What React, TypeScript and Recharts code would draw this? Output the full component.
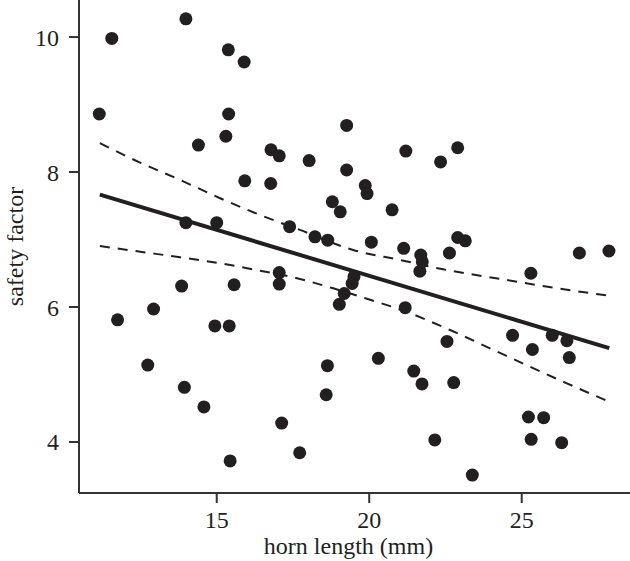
import React from 'react';
import { ComposedChart, Scatter, Line, XAxis, YAxis } from 'recharts';

// horn length (mm) of each specimen
const hornLength = [
  11.15, 11.56, 11.75, 12.74, 12.93, 13.85, 13.94, 13.99, 13.99, 14.4,
  14.58, 14.94, 15.0, 15.3, 15.38, 15.39, 15.41, 15.44, 15.57, 15.9,
  15.92, 16.77, 16.78, 17.05, 17.05, 17.05, 17.13, 17.39, 17.72, 18.03,
  18.22, 18.59, 18.63, 18.64, 18.79, 19.02, 19.05, 19.18, 19.26, 19.26,
  19.5, 19.44, 19.87, 19.93, 20.07, 20.3, 20.75, 21.13, 21.18, 21.2,
  21.46, 21.66, 21.69, 21.74, 21.73, 22.15, 22.34, 22.55, 22.63, 22.77,
  22.9, 22.9, 23.15, 23.38, 24.7, 25.22, 25.3, 25.31, 25.35, 25.72,
  26.0, 26.31, 26.48, 26.56, 26.89, 27.86,
];
// safety factor of each specimen
const safetyFactor = [
  8.86, 9.98, 5.81, 5.14, 5.97, 6.31, 4.81, 10.27, 7.25, 8.4,
  4.52, 5.72, 7.25, 8.53, 9.81, 8.86, 5.72, 3.72, 6.33, 9.63,
  7.87, 7.83, 8.33, 8.24, 6.51, 6.34, 4.28, 7.19, 3.84, 8.17,
  7.04, 4.7, 5.13, 6.99, 7.56, 6.04, 7.41, 6.2, 8.69, 8.03,
  6.45, 6.35, 7.8, 7.68, 6.96, 5.24, 7.44, 6.87, 5.99, 8.31,
  5.05, 6.53, 6.77, 6.67, 4.86, 4.03, 8.15, 5.49, 6.8, 4.88,
  8.36, 7.03, 6.98, 3.51, 5.58, 4.37, 6.5, 4.04, 5.37, 4.36,
  5.58, 3.99, 5.5, 5.25, 6.8, 6.83,
];

// fitted regression line
const fitX = [11.17, 27.87];
const fitY = [7.665, 5.39];

// confidence band, upper
const upperX = [11.17, 12.49, 13.8, 15.11, 16.42, 17.73, 19.47, 21.01, 22.42, 24.52, 26.16, 27.87];
const upperY = [8.427, 8.139, 7.883, 7.612, 7.364, 7.142, 6.845, 6.697, 6.559, 6.4, 6.277, 6.168];

// confidence band, lower
const lowerX = [11.17, 12.49, 13.8, 15.11, 16.42, 17.5, 18.82, 20.13, 20.91, 22.65, 23.96, 25.27, 26.48, 27.87];
const lowerY = [6.904, 6.82, 6.737, 6.648, 6.538, 6.44, 6.277, 6.093, 5.98, 5.659, 5.388, 5.115, 4.869, 4.596];

const xTicks = [15, 20, 25];
const yTicks = [4, 6, 8, 10];

const zip = (xs: number[], ys: number[]) => xs.map((x, i) => ({ x, y: ys[i] }));

const points = zip(hornLength, safetyFactor);
const fitData = zip(fitX, fitY);
const upperData = zip(upperX, upperY);
const lowerData = zip(lowerX, lowerY);

const FONT = '"Liberation Serif", "Times New Roman", serif';
const INK = '#231f20';
const AXIS = '#333333';

const Dot = (props: any) => {
  const { cx, cy } = props;
  if (cx == null || cy == null) return null;
  return <circle cx={cx} cy={cy} r={6.5} fill={INK} />;
};

const XLabel = (props: any) => {
  const vb = props.viewBox || {};
  return (
    <text
      x={vb.x + vb.width / 2 - 6}
      y={vb.y + 61}
      textAnchor="middle"
      fontFamily={FONT}
      fontSize={24}
      fill={INK}
    >
      horn length (mm)
    </text>
  );
};

const YLabel = (props: any) => {
  const vb = props.viewBox || {};
  const x = vb.x + 23;
  const y = vb.y + vb.height / 2;
  return (
    <text
      x={x}
      y={y}
      transform={`rotate(-90, ${x}, ${y})`}
      textAnchor="middle"
      fontFamily={FONT}
      fontSize={24}
      fill={INK}
    >
      safety factor
    </text>
  );
};

export default function App() {
  const tickStyle = { fontFamily: FONT, fontSize: 24, fill: INK };
  return (
    <div style={{ position: 'absolute', left: 0, top: 0, background: '#fff' }}>
      <ComposedChart width={630} height={561} margin={{ top: 0, right: 0, bottom: 0, left: 0 }}>
        <XAxis
          type="number"
          dataKey="x"
          domain={[10.485, 28.55]}
          ticks={xTicks}
          allowDataOverflow
          height={68}
          tickSize={10}
          tickMargin={8}
          stroke={AXIS}
          strokeWidth={2}
          tick={tickStyle}
          tickLine={{ stroke: AXIS, strokeWidth: 2 }}
          axisLine={{ stroke: AXIS, strokeWidth: 2 }}
          label={<XLabel />}
        />
        <YAxis
          type="number"
          dataKey="y"
          domain={[3.244, 10.549]}
          ticks={yTicks}
          allowDataOverflow
          width={79}
          tickSize={10}
          tickMargin={10}
          stroke={AXIS}
          strokeWidth={2}
          tick={tickStyle}
          tickLine={{ stroke: AXIS, strokeWidth: 2 }}
          axisLine={{ stroke: AXIS, strokeWidth: 2 }}
          label={<YLabel />}
        />
        <Line
          data={upperData}
          dataKey="y"
          type="monotone"
          stroke={INK}
          strokeWidth={2}
          strokeDasharray="10 8"
          dot={false}
          activeDot={false}
          isAnimationActive={false}
        />
        <Line
          data={lowerData}
          dataKey="y"
          type="monotone"
          stroke={INK}
          strokeWidth={2}
          strokeDasharray="10 8"
          dot={false}
          activeDot={false}
          isAnimationActive={false}
        />
        <Line
          data={fitData}
          dataKey="y"
          type="linear"
          stroke={INK}
          strokeWidth={4}
          dot={false}
          activeDot={false}
          isAnimationActive={false}
        />
        <Scatter data={points} dataKey="y" shape={<Dot />} isAnimationActive={false} />
      </ComposedChart>
    </div>
  );
}
